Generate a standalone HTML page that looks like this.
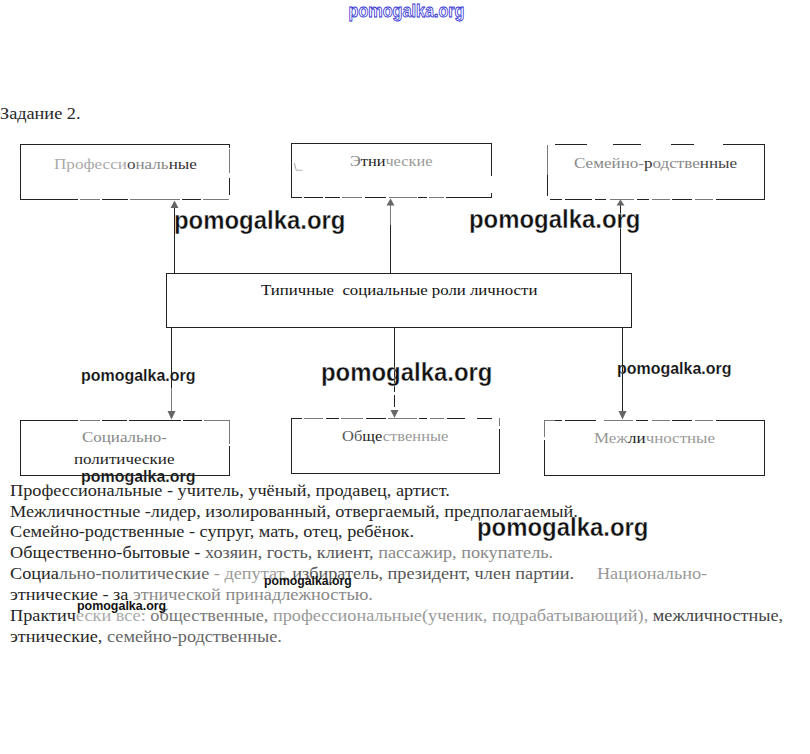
<!DOCTYPE html>
<html><head><meta charset="utf-8">
<style>
html,body{margin:0;padding:0;background:#fff;}
body{width:810px;height:754px;position:relative;overflow:hidden;}
.t{position:absolute;white-space:pre;font-family:"Liberation Serif",serif;line-height:20px;transform-origin:0 0;}
.b{font-size:16px;color:#262626;transform:scaleX(1.14);}
.l{font-size:15px;color:#777;}
.w{position:absolute;white-space:pre;font-family:"Liberation Sans",sans-serif;font-weight:700;color:#111;line-height:1;transform-origin:0 0;transform:scaleX(0.957);-webkit-text-stroke:0.35px #fff;}
svg{position:absolute;left:0;top:0;}
.tw{left:348px;top:2px;font-size:17.4px;font-weight:700;transform:scaleX(0.935);}
</style></head><body>
<svg width="810" height="754" viewBox="0 0 810 754">
<rect x="20" y="144" width="210" height="1" fill="#222"/>
<rect x="20" y="199" width="58" height="1" fill="#222"/>
<rect x="80" y="199" width="20" height="1" fill="#7a7a7a"/>
<rect x="102" y="199" width="26" height="1" fill="#222"/>
<rect x="130" y="199" width="50" height="1" fill="#7a7a7a"/>
<rect x="182" y="199" width="19" height="1" fill="#222"/>
<rect x="203" y="199" width="26" height="1" fill="#7a7a7a"/>
<rect x="20" y="144" width="1" height="56" fill="#222"/>
<rect x="229" y="144" width="1" height="4" fill="#222"/>
<rect x="229" y="149" width="1" height="24" fill="#7a7a7a"/>
<rect x="229" y="178" width="1" height="17" fill="#222"/>
<rect x="291" y="143" width="201" height="1" fill="#222"/>
<rect x="291" y="197" width="11" height="1" fill="#222"/>
<rect x="304" y="197" width="19" height="1" fill="#222"/>
<rect x="325" y="197" width="15" height="1" fill="#222"/>
<rect x="342" y="197" width="20" height="1" fill="#7a7a7a"/>
<rect x="365" y="197" width="21" height="1" fill="#222"/>
<rect x="389" y="197" width="28" height="1" fill="#7a7a7a"/>
<rect x="418" y="197" width="9" height="1" fill="#222"/>
<rect x="429" y="197" width="15" height="1" fill="#7a7a7a"/>
<rect x="446" y="197" width="46" height="1" fill="#222"/>
<rect x="291" y="143" width="1" height="55" fill="#222"/>
<rect x="491" y="143" width="1" height="33" fill="#222"/>
<rect x="491" y="193" width="1" height="5" fill="#222"/>
<rect x="555" y="144" width="32" height="1" fill="#222"/>
<rect x="613" y="144" width="28" height="1" fill="#222"/>
<rect x="671" y="144" width="23" height="1" fill="#222"/>
<rect x="723" y="144" width="42" height="1" fill="#222"/>
<rect x="550" y="199" width="12" height="1" fill="#222"/>
<rect x="565" y="199" width="27" height="1" fill="#222"/>
<rect x="595" y="199" width="11" height="1" fill="#222"/>
<rect x="610" y="199" width="24" height="1" fill="#7a7a7a"/>
<rect x="637" y="199" width="12" height="1" fill="#222"/>
<rect x="652" y="199" width="18" height="1" fill="#7a7a7a"/>
<rect x="672" y="199" width="20" height="1" fill="#222"/>
<rect x="695" y="199" width="18" height="1" fill="#7a7a7a"/>
<rect x="716" y="199" width="49" height="1" fill="#222"/>
<rect x="547" y="145" width="1" height="30" fill="#7a7a7a"/>
<rect x="547" y="175" width="1" height="21" fill="#222"/>
<rect x="764" y="144" width="1" height="56" fill="#222"/>
<rect x="166" y="273" width="466" height="1" fill="#222"/>
<rect x="166" y="327" width="466" height="1" fill="#222"/>
<rect x="166" y="273" width="1" height="55" fill="#222"/>
<rect x="631" y="273" width="1" height="55" fill="#222"/>
<rect x="20" y="420" width="58" height="1" fill="#222"/>
<rect x="80" y="420" width="20" height="1" fill="#7a7a7a"/>
<rect x="102" y="420" width="25" height="1" fill="#222"/>
<rect x="129" y="420" width="52" height="1" fill="#222"/>
<rect x="183" y="420" width="19" height="1" fill="#222"/>
<rect x="204" y="420" width="25" height="1" fill="#7a7a7a"/>
<rect x="20" y="475" width="210" height="1" fill="#222"/>
<rect x="20" y="420" width="1" height="56" fill="#222"/>
<rect x="229" y="420" width="1" height="24" fill="#7a7a7a"/>
<rect x="229" y="446" width="1" height="30" fill="#222"/>
<rect x="291" y="418" width="11" height="1" fill="#222"/>
<rect x="304" y="418" width="19" height="1" fill="#7a7a7a"/>
<rect x="326" y="418" width="13" height="1" fill="#222"/>
<rect x="341" y="418" width="22" height="1" fill="#7a7a7a"/>
<rect x="366" y="418" width="20" height="1" fill="#222"/>
<rect x="388" y="418" width="29" height="1" fill="#7a7a7a"/>
<rect x="419" y="418" width="8" height="1" fill="#222"/>
<rect x="430" y="418" width="14" height="1" fill="#7a7a7a"/>
<rect x="447" y="418" width="18" height="1" fill="#222"/>
<rect x="477" y="418" width="15" height="1" fill="#222"/>
<rect x="291" y="473" width="209" height="1" fill="#222"/>
<rect x="291" y="418" width="1" height="56" fill="#222"/>
<rect x="499" y="418" width="1" height="8" fill="#7a7a7a"/>
<rect x="499" y="429" width="1" height="45" fill="#222"/>
<rect x="544" y="420" width="11" height="1" fill="#7a7a7a"/>
<rect x="555" y="420" width="7" height="1" fill="#222"/>
<rect x="565" y="420" width="31" height="1" fill="#222"/>
<rect x="604" y="420" width="29" height="1" fill="#7a7a7a"/>
<rect x="636" y="420" width="12" height="1" fill="#222"/>
<rect x="652" y="420" width="18" height="1" fill="#7a7a7a"/>
<rect x="672" y="420" width="20" height="1" fill="#222"/>
<rect x="695" y="420" width="18" height="1" fill="#7a7a7a"/>
<rect x="716" y="420" width="49" height="1" fill="#222"/>
<rect x="544" y="475" width="221" height="1" fill="#222"/>
<rect x="544" y="420" width="1" height="17" fill="#7a7a7a"/>
<rect x="544" y="440" width="1" height="36" fill="#222"/>
<rect x="764" y="420" width="1" height="56" fill="#222"/>
<rect x="174" y="208" width="1" height="65" fill="#222"/>
<rect x="390" y="205" width="1" height="20" fill="#7a7a7a"/>
<rect x="390" y="225" width="1" height="48" fill="#222"/>
<rect x="620" y="205" width="1" height="68" fill="#222"/>
<rect x="171" y="328" width="1" height="60" fill="#222"/>
<rect x="171" y="388" width="1" height="23" fill="#7a7a7a"/>
<rect x="394" y="328" width="1" height="64" fill="#222"/>
<rect x="394" y="395" width="1" height="12" fill="#222"/>
<rect x="622" y="328" width="1" height="83" fill="#222"/>
<path d="M174.5 200.5L178.5 208H170.5Z" fill="#666"/>
<path d="M390.5 198.5L394.5 205.5H386.5Z" fill="#666"/>
<path d="M620.5 199.5L624.5 205.5H616.5Z" fill="#666"/>
<path d="M171.5 419.5L175.5 411H167.5Z" fill="#666"/>
<path d="M394.5 418L398.5 410H390.5Z" fill="#666"/>
<path d="M622.5 419.5L626.5 411H618.5Z" fill="#666"/>
<path d="M294.3 163L296.3 170.3H302.5" fill="none" stroke="#b0b0b0" stroke-width="1.1"/>
</svg>

<div class="t b" style="left:0px;top:104px;">Задание 2.</div>

<div class="t l" style="left:54px;top:154px;transform:scaleX(1.14);color:#aaa;">Професси<span style="color:#444">о</span><span style="color:#888">наль</span><span style="color:#333">ные</span></div>
<div class="t l" style="left:350px;top:151px;transform:scaleX(1.088);color:#999;"><span style="color:#777">Э</span><span style="color:#222">тни</span>ческие</div>
<div class="t l" style="left:574px;top:153px;transform:scaleX(1.137);color:#888;">Семейно-<span style="color:#333">р</span>одстве<span style="color:#444">нные</span></div>
<div class="t l" style="left:261px;top:280px;color:#111;transform:scaleX(1.12);">Типичные  социальные роли личности</div>
<div class="t l" style="left:82px;top:427px;transform:scaleX(1.13);color:#888;">Социально-</div>
<div class="t l" style="left:74px;top:449px;color:#222;transform:scaleX(1.133);">политические</div>
<div class="t l" style="left:342px;top:426px;transform:scaleX(1.10);color:#999;"><span style="color:#555">Об</span><span style="color:#222">ще</span>ственные</div>
<div class="t l" style="left:594px;top:428px;transform:scaleX(1.13);color:#999;">Меж<span style="color:#222">ли</span>чностные</div>

<div class="t b" style="left:10px;top:481px;">Профессиональные - учитель, учёный, продавец, артист.</div>
<div class="t b" style="left:10px;top:502px;">Межличностные -лидер, изолированный, отвергаемый, предполагаемый.</div>
<div class="t b" style="left:10px;top:522px;">Семейно-родственные - супруг, мать, отец, ребёнок.</div>
<div class="t b" style="left:10px;top:543px;">Общественно-бытовые - <span style="color:#555">хозяин, гость, клиент, </span><span style="color:#888">пассажир, покупатель.</span></div>
<div class="t b" style="left:10px;top:564px;">Социа<span style="color:#666">льно-политические</span><span style="color:#999"> - депутат, </span><span style="color:#555">избиратель, президент, член партии.</span><span style="color:#999">     Национально-</span></div>
<div class="t b" style="left:10px;top:585px;">этнические - за <span style="color:#888">этнической принадлежностью.</span></div>
<div class="t b" style="left:10px;top:606px;">Практич<span style="color:#aaa">ески все: </span><span style="color:#777">общественные, </span><span style="color:#999">профессиональные(ученик, подрабатывающий), </span><span style="color:#444">межличностные,</span></div>
<div class="t b" style="left:10px;top:627px;">этнические, <span style="color:#666">семейно-родственные.</span></div>

<div class="w" style="left:174px;top:208px;font-size:25px;">pomogalka.org</div>
<div class="w" style="left:469px;top:207px;font-size:25px;">pomogalka.org</div>
<div class="w" style="left:81px;top:368px;font-size:16.7px;-webkit-text-stroke:0.15px #fff;">pomogalka.org</div>
<div class="w" style="left:321px;top:360px;font-size:25px;">pomogalka.org</div>
<div class="w" style="left:617px;top:361px;font-size:16.7px;-webkit-text-stroke:0.15px #fff;">pomogalka.org</div>
<div class="w" style="left:81px;top:469px;font-size:16.7px;-webkit-text-stroke:0.15px #fff;">pomogalka.org</div>
<div class="w" style="left:477px;top:515px;font-size:25px;">pomogalka.org</div>
<div class="w" style="left:264px;top:575px;font-size:12.8px;-webkit-text-stroke:0;">pomogalka.org</div>
<div class="w" style="left:77px;top:599px;font-size:13px;-webkit-text-stroke:0;">pomogalka.org</div>

<svg width="810" height="30" style="position:absolute;left:0;top:0"><text x="348.5" y="16.5" font-family="Liberation Sans" font-weight="700" font-size="17.8" fill="#fbfbff" stroke="#2b2bd2" stroke-width="0.8" textLength="116" lengthAdjust="spacingAndGlyphs">pomogalka.org</text></svg>
</body></html>
